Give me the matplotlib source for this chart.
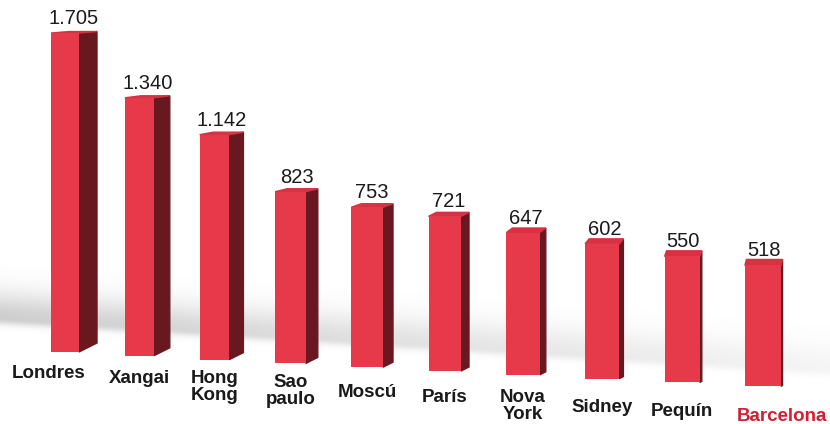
import matplotlib.pyplot as plt
import numpy as np
from matplotlib.patches import Polygon

plt.rcParams['font.family'] = ['Liberation Sans', 'DejaVu Sans']

# datos
ciudades = ["Londres", "Xangai", "Hong\nKong", "Sao\npaulo", "Moscú",
            "París", "Nova\nYork", "Sidney", "Pequín", "Barcelona"]
valores = [1705, 1340, 1142, 823, 753, 721, 647, 602, 550, 518]
etiquetas = ["1.705", "1.340", "1.142", "823", "753", "721", "647", "602", "550", "518"]

ROJO = "#e6394a"
ROJO_LADO = "#6a1820"
ROJO_TAPA = "#d83242"
ROJO_TEXTO = "#d21f33"
NEGRO = "#1a1a1a"

fig = plt.figure(figsize=(8.3, 4.24), dpi=100)
ax = fig.add_axes([0, 0, 1, 1])
ax.set_xlim(0, 830)
ax.set_ylim(424, 0)
ax.axis('off')

# sombra del suelo (banda gris difuminada)
xx, yy = np.meshgrid(np.arange(830), np.arange(424))
centro = 318 + 0.062 * xx
d = yy - centro
alfa = np.where(d < 0, np.exp(-(d / 26.0) ** 2), np.exp(-(d / 6.0) ** 2))
fuerza = 0.33 * (1 - 0.8 * xx / 830)
img = np.ones((424, 830, 4))
img[..., :3] = 0.42
img[..., 3] = alfa * fuerza
ax.imshow(img, extent=[0, 830, 424, 0], aspect='auto', zorder=0)

# perspectiva: las barras de la derecha quedan mas cerca
n = len(valores)
idx = np.arange(n)
izq = 51 + 73.5 * idx + 0.4 * idx ** 2
ancho = 28 + 0.9 * idx
suelo = 352 + 3.8 * idx
alto = 0.167 * (np.array(valores) + 205)
lado = np.maximum(18 - 2.0 * idx, 1.5)
tapa = 1.5 + 0.5 * idx
techo = suelo - alto

ax.bar(izq, -alto, width=ancho, bottom=suelo, align='edge', color=ROJO, zorder=3)

for i in range(n):
    xr = izq[i] + ancho[i]
    cara = [(xr, techo[i]), (xr + lado[i], techo[i] - tapa[i]),
            (xr + lado[i], suelo[i] - lado[i] * 0.5), (xr, suelo[i])]
    ax.add_patch(Polygon(cara, closed=True, color=ROJO_LADO, zorder=2))
    arriba = [(izq[i], techo[i]), (xr, techo[i]), (xr + lado[i], techo[i] - tapa[i]),
              (izq[i] + lado[i], techo[i] - tapa[i])]
    ax.add_patch(Polygon(arriba, closed=True, color=ROJO_TAPA, zorder=2))

    # valor encima de la barra
    ax.text(izq[i] + ancho[i] / 2 + lado[i] / 2, techo[i] - 9, etiquetas[i],
            ha='center', va='baseline', fontsize=14.5, color=NEGRO, zorder=4)

    # nombre de la ciudad
    y = 365 + 4.8 * i - (5 if "\n" in ciudades[i] else 0)
    if i == 0:
        x, ha = xr + 6, 'right'
    elif i == n - 1:
        x, ha = izq[i] - 8, 'left'
    else:
        x, ha = izq[i] + ancho[i] / 2, 'center'
    ax.text(x, y, ciudades[i], ha=ha, va='top', fontsize=13.5, fontweight='bold',
            linespacing=1.0, color=ROJO_TEXTO if i == n - 1 else NEGRO, zorder=4)

fig.savefig("out.png", dpi=100)
